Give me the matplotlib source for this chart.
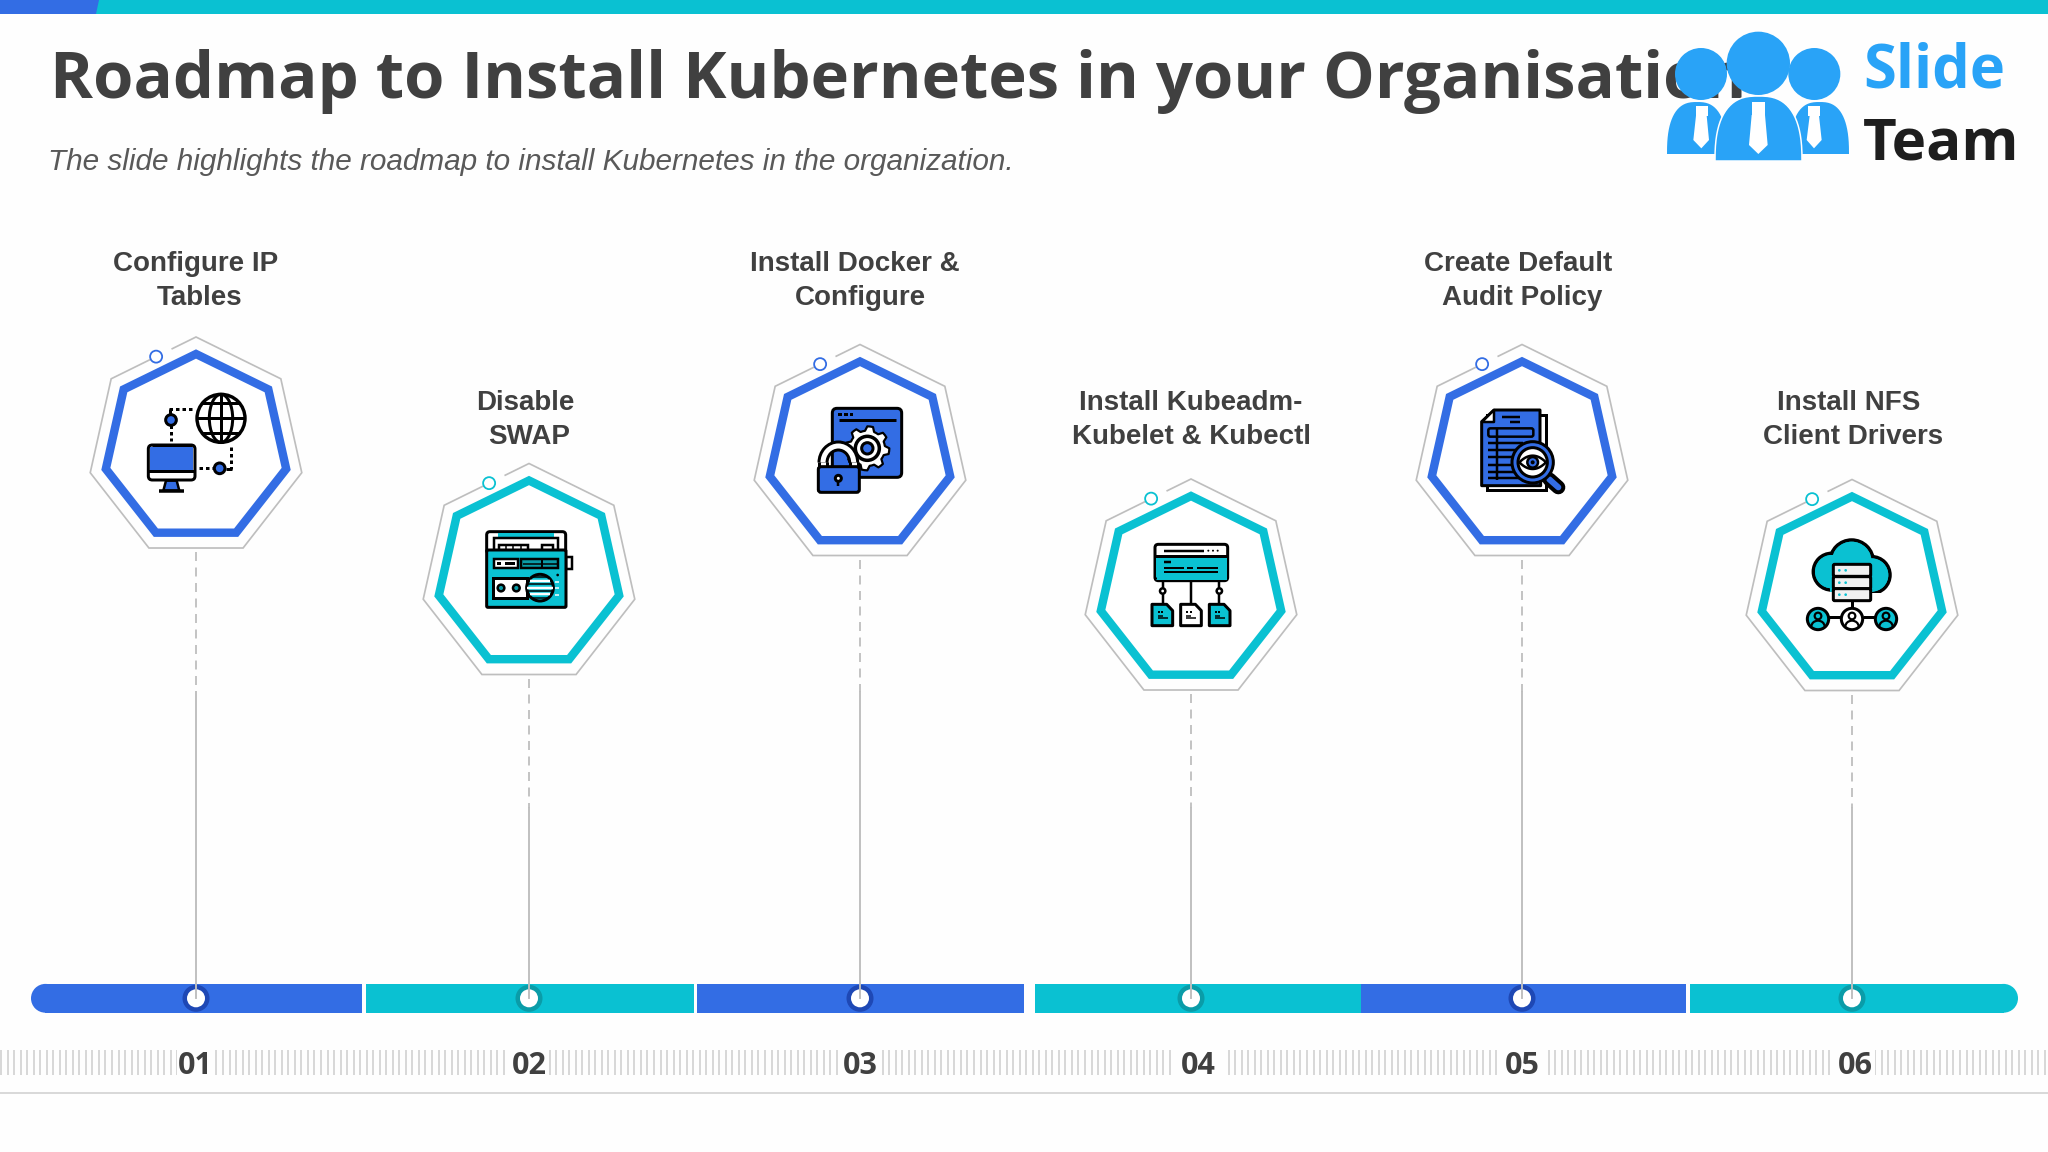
import numpy as np
import matplotlib
matplotlib.use("Agg")
import matplotlib.pyplot as plt
from matplotlib.patches import Circle, Ellipse, Polygon, Rectangle, FancyBboxPatch, Arc

plt.rcParams['lines.scale_dashes'] = False

BLUE = '#336DE4'
TEAL = '#0AC1D2'
DARK_BLUE = '#1E48B5'
DARK_TEAL = '#0A9CA8'
GREY = '#BEBEBE'
TEXT = '#404040'
LOGO = '#29A3F7'

title = 'Roadmap to Install Kubernetes in your Organisation'
subtitle = 'The slide highlights the roadmap to install Kubernetes in the organization.'

step_numbers = ['01', '02', '03', '04', '05', '06']
step_lines = [('Configure IP', 'Tables'), ('Disable', 'SWAP'), ('Install Docker &', 'Configure'),
              ('Install Kubeadm-', 'Kubelet & Kubectl'), ('Create Default', 'Audit Policy'),
              ('Install NFS', 'Client Drivers')]
step_colors = [BLUE, TEAL, BLUE, TEAL, BLUE, TEAL]
ring_colors = [DARK_BLUE, DARK_TEAL, DARK_BLUE, DARK_TEAL, DARK_BLUE, DARK_TEAL]

# positions in pixels of the 2048x1152 slide
center_x = [196, 529, 860, 1191, 1522, 1852]
center_y = [448, 574.5, 455.5, 590, 455.5, 590.5]
dash_end = [692, 808, 692, 808, 692, 808]
label_x = [(196, 200), (525, 529), (855, 860), (1191, 1191), (1518, 1522), (1849, 1853)]
label_y = [(271, 305), (410, 444), (271, 305), (410, 444), (271, 305), (410, 444)]
number_x = [195, 529, 860, 1198, 1522, 1855]
number_gap = [36, 40, 40, 50, 48, 40]
bar_left = [31, 365.5, 696.5, 1034.5, 1361, 1690]
bar_right = [362, 693.5, 1023.5, 1361, 1685.5, 2018]


def px(v):
    return v * 0.72


fig = plt.figure(figsize=(20.48, 11.52), dpi=100, facecolor='#FEFEFE')
ax = fig.add_axes([0, 0, 1, 1])
ax.set_xlim(0, 2048)
ax.set_ylim(1152, 0)
ax.axis('off')
ax.autoscale(False)


# small drawing helpers, coordinates are the 3x zoom of a crop starting at o
def zp(o, x, y):
    return o[0] + x / 3, o[1] + y / 3


def line(o, pts, c='black', lw=3, z=6, dots=False, cap='butt'):
    xs = [zp(o, *p)[0] for p in pts]
    ys = [zp(o, *p)[1] for p in pts]
    ls = (0, (px(3.5), px(3))) if dots else '-'
    ax.plot(xs, ys, color=c, lw=px(lw), zorder=z, ls=ls, solid_capstyle=cap, dash_capstyle='butt')


def circ(o, x, y, r, fc='white', ec='black', lw=3, z=6):
    c = zp(o, x, y)
    p = Circle(c, r / 3, fc=fc, ec=ec, lw=px(lw), zorder=z)
    ax.add_patch(p)
    return p


def box(o, x0, y0, x1, y1, fc='white', ec='black', lw=3, r=0, z=6):
    a = zp(o, x0, y0)
    b = zp(o, x1, y1)
    if r:
        ax.add_patch(FancyBboxPatch((a[0] + r / 3, a[1] + r / 3), b[0] - a[0] - 2 * r / 3, b[1] - a[1] - 2 * r / 3,
                                    boxstyle='round,pad=%f' % (r / 3), fc=fc, ec=ec, lw=px(lw), zorder=z))
    else:
        ax.add_patch(Rectangle(a, b[0] - a[0], b[1] - a[1], fc=fc, ec=ec, lw=px(lw), zorder=z))


def poly(o, pts, fc='white', ec='black', lw=3, z=6):
    ax.add_patch(Polygon([zp(o, *p) for p in pts], closed=True, fc=fc, ec=ec, lw=px(lw), zorder=z, joinstyle='round'))


def icon_globe():
    o = (60, 320)
    circ(o, 483, 295, 72, lw=3.4)
    ax.add_patch(Ellipse(zp(o, 483, 295), 70 / 3, 144 / 3, fc='none', ec='black', lw=px(3), zorder=6))
    line(o, [(483, 223), (483, 367)], lw=3)
    for yy in [250, 295, 340]:
        half = np.sqrt(72 ** 2 - (yy - 295) ** 2)
        line(o, [(483 - half, yy), (483 + half, yy)], lw=3)
    line(o, [(328, 266), (400, 266)], dots=True)
    line(o, [(330, 266), (330, 285)], lw=3)
    line(o, [(333, 316), (333, 362)], dots=True)
    line(o, [(418, 445), (462, 445)], dots=True)
    line(o, [(513, 380), (513, 448)], dots=True)
    line(o, [(498, 447), (516, 447)], lw=3)
    circ(o, 333, 300, 16, fc=BLUE)
    circ(o, 479, 445, 16, fc=BLUE)
    box(o, 265, 375, 405, 480, fc='white', r=12)
    box(o, 270, 380, 400, 450, fc=BLUE, ec='none', lw=0, z=7)
    line(o, [(265, 452), (405, 452)], z=7)
    line(o, [(275, 375), (395, 375)], z=7)
    poly(o, [(318, 482), (350, 482), (358, 512), (310, 512)], fc=BLUE, lw=2.5)
    line(o, [(297, 514), (373, 514)], lw=3.5)


def icon_radio():
    o = (420, 460)
    box(o, 200, 215, 437, 280, r=10)
    box(o, 235, 219, 403, 232, fc=TEAL, ec='none', lw=0)
    box(o, 222, 235, 415, 275, lw=2.5)
    box(o, 237, 255, 325, 272, fc='white', lw=2.5)
    for xx in [258, 280, 302]:
        line(o, [(xx, 255), (xx, 270)], lw=1.5)
    box(o, 365, 255, 400, 272, fc='white', lw=2.5)
    box(o, 438, 290, 455, 328, lw=2.5)
    box(o, 200, 270, 438, 442, fc=TEAL, r=4)
    box(o, 222, 297, 293, 324, lw=2.5)
    box(o, 232, 307, 243, 314, fc='black', ec='none', lw=0)
    box(o, 255, 307, 285, 314, fc='black', ec='none', lw=0)
    box(o, 303, 297, 415, 324, fc=DARK_TEAL, lw=2.5)
    line(o, [(365, 297), (365, 324)], lw=2)
    line(o, [(310, 311), (410, 311)], lw=1.5)
    box(o, 218, 355, 320, 415, lw=3)
    circ(o, 243, 384, 10, fc=DARK_TEAL, lw=2.5)
    circ(o, 289, 384, 10, fc=DARK_TEAL, lw=2.5)
    circ(o, 360, 383, 40, fc=TEAL, z=7)
    for yy, half in [(362, 30), (383, 38), (403, 30)]:
        line(o, [(360 - half, yy), (360 + half, yy)], c='white', lw=2.5, z=7)
    for yy, half in [(350, 20), (372, 36), (394, 36), (414, 20)]:
        line(o, [(360 - half, yy), (360 + half, yy)], lw=1.5, z=7)
    circ(o, 413, 345, 4, fc='black', lw=0)
    for yy in [365, 385, 405]:
        line(o, [(405, yy), (418, yy)], c='white', lw=1.5, z=7)


def icon_lock():
    o = (760, 340)
    box(o, 217, 205, 425, 412, fc=BLUE, r=14)
    for xx in [240, 258, 275]:
        box(o, xx - 5, 218, xx + 5, 229, fc='black', ec='none', lw=0)
    line(o, [(237, 240), (408, 240)], lw=3)
    # gear teeth
    ang = np.radians(np.arange(0, 360, 7.5))
    rad = np.where(np.arange(48) % 6 < 3, 66, 53)
    cog = [(322 + r * np.cos(a), 325 + r * np.sin(a)) for r, a in zip(rad, ang)]
    poly(o, cog, fc='white', lw=2.2, z=6)
    circ(o, 322, 325, 36, fc='white', lw=3.5)
    circ(o, 322, 325, 17, fc=BLUE, lw=3)
    # lock
    c = zp(o, 235, 368)
    ax.add_patch(Arc(c, 92 / 3, 100 / 3, theta1=180, theta2=360, ec='black', lw=px(11), zorder=7))
    ax.add_patch(Arc(c, 92 / 3, 100 / 3, theta1=180, theta2=360, ec='white', lw=px(5), zorder=7))
    for xx in [189, 281]:
        line(o, [(xx, 366), (xx, 385)], lw=11, z=7)
        line(o, [(xx, 366), (xx, 385)], c='white', lw=5, z=7)
    box(o, 175, 380, 298, 457, fc=BLUE, r=8, z=8)
    circ(o, 235, 415, 9, z=9)
    line(o, [(235, 420), (235, 437)], lw=2.5, z=9)


def doc(o, x0, fc):
    poly(o, [(x0, 373), (x0 + 44, 373), (x0 + 62, 392), (x0 + 62, 437), (x0, 437)], fc=fc)
    box(o, x0 + 17, 392, x0 + 23, 398, fc='black', ec='none', lw=0)
    box(o, x0 + 27, 392, x0 + 33, 398, fc='black', ec='none', lw=0)
    line(o, [(x0 + 17, 407), (x0 + 32, 407)], lw=1.5)
    line(o, [(x0 + 17, 415), (x0 + 47, 415)], lw=1.5)


def icon_org():
    o = (1090, 480)
    box(o, 195, 193, 413, 302, r=10)
    box(o, 197, 229, 411, 300, fc=TEAL, ec='none', lw=0)
    line(o, [(195, 228), (413, 228)])
    line(o, [(222, 212), (342, 212)], lw=2.5)
    for xx in [355, 369, 383]:
        circ(o, xx, 212, 3, fc='black', lw=0)
    line(o, [(222, 247), (243, 247)], lw=2.5)
    line(o, [(222, 265), (283, 265)], lw=2)
    line(o, [(290, 265), (310, 265)], lw=2)
    line(o, [(320, 265), (385, 265)], lw=2)
    line(o, [(222, 277), (385, 277)], lw=2)
    line(o, [(195, 290), (195, 298)], lw=3, z=7)
    for xx in [218, 303, 388]:
        line(o, [(xx, 302), (xx, 373)], lw=2.5)
    circ(o, 218, 333, 8, lw=2.5)
    circ(o, 388, 333, 8, lw=2.5)
    doc(o, 186, TEAL)
    doc(o, 272, 'white')
    doc(o, 358, TEAL)


def icon_audit():
    o = (1420, 340)
    box(o, 200, 225, 378, 450, lw=3)
    poly(o, [(222, 210), (360, 210), (360, 300), (362, 437), (185, 437), (185, 245)], fc=BLUE)
    poly(o, [(185, 245), (222, 245), (222, 210)], fc='white', lw=2.5)
    line(o, [(245, 230), (300, 230)], lw=2.5)
    line(o, [(270, 247), (300, 247)], lw=2.5)
    box(o, 205, 265, 340, 290, fc=BLUE, lw=2.5, r=6)
    for yy in [310, 330, 352, 375, 397, 415]:
        line(o, [(205, yy), (310, yy)], lw=2.5)
    line(o, [(230, 265), (230, 420)], lw=2.5)
    line(o, [(388, 418), (415, 442)], lw=14, cap='round', z=7)
    line(o, [(388, 418), (415, 442)], c=BLUE, lw=6, cap='round', z=7)
    circ(o, 338, 367, 62, fc=BLUE, z=8)
    circ(o, 338, 367, 44, fc='white', z=8)
    t = np.linspace(-1, 1, 25)
    eye = [(338 + 40 * v, 367 - 20 * (1 - v ** 2)) for v in t] + [(338 + 40 * v, 367 + 20 * (1 - v ** 2)) for v in t[::-1]]
    poly(o, eye, fc='white', lw=2.5, z=8)
    circ(o, 338, 367, 16, fc=BLUE, lw=2.5, z=8)
    circ(o, 338, 367, 6, fc='black', lw=0, z=8)


def person(o, x, fc):
    circ(o, x, 357, 32, fc=fc, lw=3)
    circ(o, x, 348, 10, fc=fc if fc == 'white' else TEAL, lw=2.2, z=7)
    body = Arc(zp(o, x, 380), 40 / 3, 36 / 3, theta1=180, theta2=360, ec='black', lw=px(2.2), zorder=7)
    ax.add_patch(body)


def icon_cloud():
    o = (1740, 500)
    clip = Rectangle((1740, 500), 240, 278 / 3, transform=ax.transData)
    lobes = [(335, 185, 65), (275, 215, 55), (395, 225, 55)]
    for x, y, r in lobes:
        circ(o, x, y, r, fc=TEAL, lw=3.5).set_clip_path(clip)
    for x, y, r in lobes:
        circ(o, x, y, r - 5, fc=TEAL, ec='none', lw=0).set_clip_path(clip)
    box(o, 270, 200, 400, 276, fc=TEAL, ec='none', lw=0)
    for y0 in [193, 230, 266]:
        box(o, 280, y0, 392, y0 + 36, fc='#F0F0F0', r=4, z=7)
        for xx in [298, 317]:
            circ(o, xx, y0 + 18, 4, fc=TEAL, lw=0, z=7)
    line(o, [(336, 302), (336, 330)])
    line(o, [(265, 352), (305, 352)])
    line(o, [(368, 352), (408, 352)])
    person(o, 234, TEAL)
    person(o, 336, 'white')
    person(o, 438, TEAL)


icons = [icon_globe, icon_radio, icon_lock, icon_org, icon_audit, icon_cloud]

# top strip
ax.add_patch(Rectangle((0, 0), 2048, 14, fc=TEAL, ec='none', zorder=1))
ax.add_patch(Polygon([(0, 0), (99, 0), (96, 14), (0, 14)], fc=BLUE, ec='none', zorder=2))

ax.text(50, 98, title, fontfamily='Open Sans', fontweight='bold', fontsize=47, color=TEXT, zorder=3)
ax.text(48, 169.5, subtitle, fontfamily='Liberation Sans', fontstyle='italic', fontsize=21.4, color='#595959', zorder=3)

# ruler
ax.vlines(np.arange(1, 2048, 6.53), 1049.5, 1075, color='#D8D8D8', lw=px(2), zorder=1)
ax.plot([0, 2048], [1093, 1093], color='#D0D0D0', lw=px(1.6), zorder=1)

# timeline bar
for i in range(6):
    left = bar_left[i] + (14.4 if i == 0 else 0)
    right = bar_right[i] - (14.4 if i == 5 else 0)
    ax.barh(998.3, right - left, left=left, height=28.8, color=step_colors[i], zorder=2)
ax.add_patch(Circle((31 + 14.4, 998.3), 14.4, fc=BLUE, ec='none', zorder=2))
ax.add_patch(Circle((2018 - 14.4, 998.3), 14.4, fc=TEAL, ec='none', zorder=2))

for i in range(6):
    cx, cy = center_x[i], center_y[i]
    col = step_colors[i]
    ang = np.radians(-90 + np.arange(7) * 360 / 7)

    # stem, dashed part then solid part
    bottom = cy + 111 * np.cos(np.pi / 7)
    ax.plot([cx, cx], [bottom + 4, dash_end[i]], color=GREY, lw=px(1.8), ls=(0, (px(9), px(6.5))), zorder=2)
    ax.plot([cx, cx], [dash_end[i], 998], color=GREY, lw=px(1.9), zorder=4)

    # outer thin heptagon with the gap near the small circle
    ox = cx + 108.5 * np.cos(ang)
    oy = cy + 111 * np.sin(ang)
    gap_a = (ox[0] + 0.28 * (ox[6] - ox[0]), oy[0] + 0.28 * (oy[6] - oy[0]))
    gap_b = (ox[0] + 0.47 * (ox[6] - ox[0]), oy[0] + 0.47 * (oy[6] - oy[0]))
    xs = [gap_a[0]] + list(ox) + [gap_b[0]]
    ys = [gap_a[1]] + list(oy) + [gap_b[1]]
    ax.plot(xs, ys, color=GREY, lw=px(1.7), zorder=3, solid_joinstyle='miter')
    ax.add_patch(Circle(gap_b, 6, fc='white', ec=col, lw=px(1.8), zorder=4))

    # thick inner heptagon
    ix = cx + 92.5 * np.cos(ang)
    iy = cy + 94 * np.sin(ang)
    ax.add_patch(Polygon(np.column_stack([ix, iy]), closed=True, fc='white', ec=col, lw=px(8.4), joinstyle='miter', zorder=3))

    icons[i]()

    # marker on the bar
    ax.add_patch(Circle((cx, 998.3), 13.5, fc=ring_colors[i], ec='none', zorder=3))
    ax.add_patch(Circle((cx, 998.3), 9, fc='white', ec='none', zorder=3))

    for k in range(2):
        ax.text(label_x[i][k], label_y[i][k], step_lines[i][k], ha='center', fontfamily='Liberation Sans',
                fontweight='bold', fontsize=20, color=TEXT, zorder=5)

    ax.add_patch(Rectangle((number_x[i] - number_gap[i] / 2, 1046), number_gap[i], 32, fc='#FEFEFE', ec='none', zorder=1.5))
    ax.text(number_x[i], 1074.5, step_numbers[i], ha='center', fontfamily='Open Sans', fontweight='bold',
            fontsize=22, color=TEXT, zorder=5)


# logo
def dome(x0, x1, ytop, ybot, lw=0):
    t = np.linspace(np.pi, 2 * np.pi, 40)
    a = (x1 - x0) / 2
    xv = np.sign(np.cos(t)) * np.abs(np.cos(t)) ** 0.75
    yv = np.sign(np.sin(t)) * np.abs(np.sin(t)) ** 0.8
    pts = np.column_stack([(x0 + x1) / 2 + a * xv, ybot + (ybot - ytop) * yv])
    ax.add_patch(Polygon(pts, closed=True, fc=LOGO, ec='white', lw=lw, zorder=10, joinstyle='round'))


lo = (1640, 0)
dome(1667, 1727, 102, 154)
dome(1790, 1849, 102, 154)
dome(1715, 1802, 96, 161, lw=px(1.5))
for head in [(183, 222, 78), (523, 222, 78), (355, 190, 95)]:
    ax.add_patch(Circle(zp(lo, head[0], head[1]), head[2] / 3, fc=LOGO, ec='none', zorder=11))
for knot, tie in [((167, 318, 203, 347), [(168, 347), (200, 347), (207, 420), (184, 445), (160, 420)]),
                  ((505, 318, 541, 347), [(509, 347), (537, 347), (545, 420), (522, 445), (500, 420)]),
                  ((335, 305, 375, 345), [(335, 345), (375, 345), (383, 435), (355, 462), (327, 435)])]:
    box(lo, knot[0], knot[1], knot[2], knot[3], fc='white', ec='none', lw=0, z=11)
    poly(lo, tie, fc='white', ec='none', lw=0, z=11)
ax.text(1863, 87, 'Slide', fontfamily='Open Sans', fontweight='bold', fontsize=43, color=LOGO, zorder=11)
ax.text(1863, 160, 'Team', fontfamily='Open Sans', fontweight='bold', fontsize=42, color='#1E1E1E', zorder=11)

fig.savefig('out.png', dpi=100, facecolor=fig.get_facecolor())
